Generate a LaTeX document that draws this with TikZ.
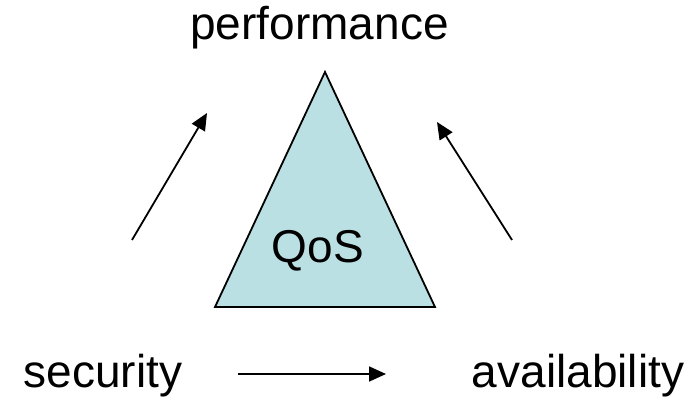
\documentclass[tikz,border=0pt]{standalone}
\usepackage{fontspec}
\setmainfont{Liberation Sans}
\usetikzlibrary{arrows.meta}
\definecolor{qosfill}{RGB}{186,224,227}
\begin{document}
\begin{tikzpicture}[x=1pt,y=-1pt,
  lbl/.style={anchor=base,inner sep=0pt,font=\fontsize{46}{55}\selectfont},
  arr/.style={line width=1.8pt,-{Triangle[length=17pt,width=15pt]}}]
\useasboundingbox (0,0) rectangle (698,403);
\coordinate (apex) at (325,72);
\coordinate (bl) at (215,307);
\coordinate (br) at (435,307);
\draw[fill=qosfill,line width=1.8pt,line join=miter] (apex) -- (br) -- (bl) -- cycle;
\node[lbl] (qos) at (318,262) {QoS};
\node[lbl] (perf) at (319.5,40) {performance};
\node[lbl] (sec) at (103,387) {security};
\node[lbl] (avail) at (578,387) {availability};
\coordinate (l1) at (132,240);
\coordinate (l2) at (207,113);
\coordinate (r1) at (512,240);
\coordinate (r2) at (437,122);
\coordinate (b1) at (238,374);
\coordinate (b2) at (386,374);
\draw[arr] (l1) -- (l2);
\draw[arr] (r1) -- (r2);
\draw[arr] (b1) -- (b2);
\end{tikzpicture}
\end{document}
